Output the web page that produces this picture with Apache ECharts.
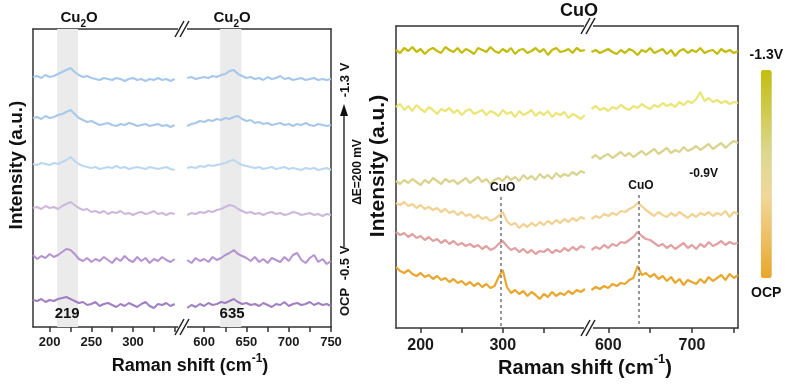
<!DOCTYPE html>
<html><head><meta charset="utf-8">
<script src="https://cdn.jsdelivr.net/npm/echarts@6/dist/echarts.min.js"></script>
<style>html,body{margin:0;padding:0;background:#fff}#c{width:793px;height:387px}</style>
</head><body><div id="c"></div>
<script>
// ---------- DATA ----------
// Left panel (Cu2O region), two x segments around the axis break
const leftXA = [180,185,190,195,200,205,210,215,220,225,230,235,240,245,250,255,260,265,270,275,280,285,290,295,300,305,310,315,320,325,330,335,340,345,350];
const leftXB = [580,585,590,595,600,605,610,615,620,625,630,635,640,645,650,655,660,665,670,675,680,685,690,695,700,705,710,715,720,725,730,735,740,745,750];
const leftOffsets = [249,204,160,115,69,23]; // stacking offsets, -1.3 V (top) ... OCP (bottom)
const leftA = [
  [1,2,0,3,1,2,4,6,8,10,6,3,1,2,0,-1,-2,0,-1,-2,0,-1,-3,-1,0,-2,-1,-3,-1,-2,0,-2,-1,-3,-1],
  [5,6,4,7,5,6,8,9,11,13,9,5,3,1,2,0,-2,-1,0,-2,-3,-1,-2,0,-1,-3,-2,-1,-3,-2,-1,-3,-2,-4,-2],
  [3,2,4,3,2,4,3,5,7,10,6,3,1,0,-1,0,-2,-1,0,-1,1,-1,0,-2,-1,0,-1,-2,0,-1,-2,-1,0,-2,-3],
  [4,5,3,6,4,5,3,6,8,10,7,4,2,3,0,1,-1,1,-2,0,-1,1,-2,-1,-3,-1,0,-2,-1,1,-2,-1,-3,-1,-2],
  [3,-1,2,0,4,1,3,6,9,8,4,-1,-3,0,-4,-1,-3,1,-2,-5,0,-3,2,-2,-4,1,-3,0,-5,-1,-3,1,-2,-4,-1],
  [4,3,5,2,4,3,5,6,7,5,3,1,2,-1,0,2,-2,0,1,-1,-3,0,-2,1,-1,-3,0,2,-2,-4,0,-1,1,-2,0]
];
const leftB = [
  [0,1,-1,0,1,0,2,1,3,4,7,8,4,2,0,1,-1,0,-2,1,-1,0,2,-1,0,-2,-1,0,-2,-1,0,-2,-1,-2,-1],
  [-3,-1,0,2,1,3,2,4,3,5,4,6,7,4,2,3,0,1,-1,0,-2,-1,0,-2,-1,-3,-1,-2,0,-2,-3,-1,-2,-3,-2],
  [-1,0,-1,1,0,2,1,2,3,4,6,7,4,2,1,0,-1,0,-2,-1,0,-2,-1,0,-2,-1,-2,-3,-1,-2,-1,-3,-2,-1,-3],
  [-3,-1,-2,0,-1,1,0,2,3,5,7,6,3,1,-1,0,-2,-1,-3,-1,0,-2,-1,-3,-2,0,-1,-3,-2,-1,-3,-2,-4,-2,-3],
  [-2,-5,0,-3,-1,-4,1,-2,0,3,5,8,4,2,0,-3,1,-4,-1,-5,0,-2,-4,1,-3,3,5,-2,-5,0,3,-4,-1,-6,-3],
  [-4,-1,-3,0,-2,1,-1,0,2,1,3,5,2,0,1,-1,0,-2,1,-1,-3,0,-1,2,-2,0,1,-1,0,2,-1,1,-1,0,-2]
];
const leftColors = ['#a6c8ec','#a8c8ea','#bcd7f0','#cdb8dd','#b592d0','#a07fc2'];
const leftTicksA = [200,225,250,275,300,325,350];
const leftLabelsA = [200,250,300];
const leftTicksB = [600,625,650,675,700,725,750];
const leftLabelsB = [600,650,700,750];
const leftBands = [[209,234],[619,644]];

// Right panel (CuO region)
const rightXC = [170,175,180,185,190,195,200,205,210,215,220,225,230,235,240,245,250,255,260,265,270,275,280,285,290,295,300,305,310,315,320,325,330,335,340,345,350,355,360,365,370,375,380,385,390,395,400];
const rightXD = [580,585,590,595,600,605,610,615,620,625,630,635,640,645,650,655,660,665,670,675,680,685,690,695,700,705,710,715,720,725,730,735,740,745,750,755];
const rightOffsets = [277,215,160,115,85,45]; // -1.3 V (top) ... OCP (bottom)
const rightC = [
  [1,-2,3,0,4,-1,2,-3,1,3,0,-2,4,1,-1,3,-2,2,0,-3,3,1,-1,4,0,-2,2,-1,3,-3,1,2,-2,0,3,-1,2,-4,1,3,-1,0,2,-2,3,0,1],
  [6,9,3,7,2,8,4,1,6,3,-1,4,2,5,0,3,-2,2,4,-1,1,3,-2,2,0,-3,3,-1,1,-4,2,-2,0,3,-3,1,-2,2,-4,0,-2,1,-5,-1,-3,-6,-2],
  [-13,-16,-12,-15,-11,-14,-17,-12,-15,-10,-13,-16,-11,-14,-12,-16,-13,-10,-15,-12,-9,-14,-11,-16,-12,-10,-13,-8,-12,-9,-13,-7,-11,-8,-12,-6,-10,-7,-11,-5,-9,-6,-8,-4,-7,-3,-5],
  [10,8,11,7,9,5,8,4,6,3,5,1,4,0,2,-2,1,-3,-1,-5,-2,-6,-4,-8,-6,-3,1,-8,-12,-10,-15,-11,-14,-10,-13,-9,-12,-8,-11,-7,-10,-6,-9,-5,-8,-4,-6],
  [11,8,10,6,9,5,7,3,6,2,4,0,3,-1,2,-2,0,-3,-1,-4,-2,-6,-3,-7,-5,-1,2,-3,-7,-5,-9,-6,-10,-7,-11,-8,-9,-6,-10,-7,-9,-5,-8,-4,-7,-3,-5],
  [16,12,10,13,9,7,10,6,8,4,7,3,5,1,4,0,2,-2,1,-3,0,-4,-1,-5,-3,6,13,-4,-10,-7,-11,-8,-13,-9,-12,-16,-11,-14,-9,-13,-10,-12,-8,-11,-7,-9,-6]
];
const rightD = [
  [-1,1,-2,0,2,-1,-3,1,-2,2,0,-4,1,-1,3,-2,0,2,-3,1,-5,0,2,-2,1,-1,3,-2,0,1,-3,2,-1,1,-2,0],
  [4,7,3,5,2,6,4,8,5,3,7,5,9,6,4,8,6,10,7,9,6,11,8,12,10,14,21,12,15,11,13,10,12,9,11,10],
  [10,13,9,12,14,10,13,16,12,15,11,14,17,13,16,19,14,17,20,15,18,16,21,17,19,22,18,21,24,19,22,25,20,24,27,25],
  [-6,-3,-5,-1,-3,0,-2,2,1,4,6,10,7,3,0,-3,1,-2,-4,0,-3,1,-2,-5,-1,-4,0,-2,1,-3,0,-2,2,-4,1,-1],
  [-7,-4,-6,-2,-5,-1,-3,1,0,3,6,11,7,4,3,0,-3,-1,-5,-2,-6,-3,0,-5,-2,-6,-1,-4,1,-3,-1,2,-2,1,-1,0],
  [-7,-4,-6,-3,-5,-1,-3,0,-1,3,5,17,8,10,6,9,4,7,2,6,0,4,-2,3,1,-1,4,0,6,2,5,8,3,9,5,8]
];
const rightColors = ['#c3bc0b','#ebe576','#d9d38e','#f2d293','#e0a1a0','#e9a72e'];
const rightTicksC = [200,250,300,350];
const rightLabelsC = [200,300];
const rightTicksD = [600,650,700,750];
const rightLabelsD = [600,700];
const cuoPeaks = [298,637];
const colorbarStops = ['#e8a62a','#eec066','#f0d89a','#dcd890','#cfcb50','#c4bd10'];

// ---------- CHART ----------
const FONT = 'Liberation Sans, Arial, sans-serif';
const AX = '#333';
const chart = echarts.init(document.getElementById('c'), null, {renderer:'canvas'});

const grids = [
  {left:33, top:29, width:150, height:298},
  {left:183, top:29, width:148, height:298},
  {left:396, top:26, width:193, height:302},
  {left:589, top:26, width:149, height:302}
];
function bottomAxis(g, min, max, ticks, labels, fs, margin){
  return {gridIndex:g, type:'value', min, max, position:'bottom',
    axisLine:{show:true, onZero:false, lineStyle:{color:AX, width:1.5}},
    axisTick:{show:true, customValues:ticks, length:5, inside:false, lineStyle:{color:AX, width:1.5}},
    axisLabel:{show:true, customValues:labels, fontSize:fs, fontWeight:'bold', color:'#1a1a1a', fontFamily:FONT, margin:margin},
    splitLine:{show:false}};
}
function topAxis(g, min, max){
  return {gridIndex:g, type:'value', min, max, position:'top',
    axisLine:{show:true, onZero:false, lineStyle:{color:AX, width:1.5}},
    axisTick:{show:false}, axisLabel:{show:false}, splitLine:{show:false}};
}
function yAx(g, max, pos){
  return {gridIndex:g, type:'value', min:0, max, position:pos,
    axisLine:{show:true, onZero:false, lineStyle:{color:AX, width:1.5}},
    axisTick:{show:false}, axisLabel:{show:false}, splitLine:{show:false}};
}
const xAxes = [
  bottomAxis(0,180,360,leftTicksA,leftLabelsA,13,9),
  bottomAxis(1,575,750,leftTicksB,leftLabelsB,13,9),
  bottomAxis(2,170,405,rightTicksC,rightLabelsC,16,10),
  bottomAxis(3,577,755,rightTicksD,rightLabelsD,16,10),
  topAxis(0,180,360), topAxis(1,575,750), topAxis(2,170,405), topAxis(3,577,755)
];
const yAxes = [yAx(0,298,'left'), yAx(1,298,'right'), yAx(2,302,'left'), yAx(3,302,'right')];

const series = [];
function trace(xs, vals, off, color, gi, w){
  series.push({type:'line', xAxisIndex:gi, yAxisIndex:gi, data:xs.map((x,i)=>[x, vals[i]+off]),
    symbol:'none', showSymbol:false, silent:true, z:3, lineStyle:{color, width:w}});
}
const lblStyle = (fs)=>({show:true, position:'inside', formatter:'{b}', fontSize:fs, fontWeight:'bold', color:'#111', fontFamily:FONT});
// helper series with bands / annotations
series.push({type:'line', xAxisIndex:0, yAxisIndex:0, data:[], z:1, silent:true,
  markArea:{silent:true, itemStyle:{color:'#ebebeb'}, data:[[{xAxis:leftBands[0][0]},{xAxis:leftBands[0][1]}]]},
  markPoint:{symbol:'circle', symbolSize:1, itemStyle:{color:'rgba(0,0,0,0)'}, label:lblStyle(15), data:[{name:'219', coord:[221,13]}]}});
series.push({type:'line', xAxisIndex:1, yAxisIndex:1, data:[], z:1, silent:true,
  markArea:{silent:true, itemStyle:{color:'#ebebeb'}, data:[[{xAxis:leftBands[1][0]},{xAxis:leftBands[1][1]}]]},
  markPoint:{symbol:'circle', symbolSize:1, itemStyle:{color:'rgba(0,0,0,0)'}, label:lblStyle(15), data:[{name:'635', coord:[633,13]}]}});
series.push({type:'line', xAxisIndex:2, yAxisIndex:2, data:[], z:1, silent:true,
  markLine:{silent:true, symbol:['none','none'], label:{show:false}, lineStyle:{color:'#777', width:1.5, type:[3,3]},
    data:[[{coord:[cuoPeaks[0],131]},{coord:[cuoPeaks[0],0]}]]},
  markPoint:{symbol:'circle', symbolSize:1, itemStyle:{color:'rgba(0,0,0,0)'}, label:lblStyle(12), data:[{name:'CuO', coord:[300,140]}]}});
series.push({type:'line', xAxisIndex:3, yAxisIndex:3, data:[], z:1, silent:true,
  markLine:{silent:true, symbol:['none','none'], label:{show:false}, lineStyle:{color:'#777', width:1.5, type:[3,3]},
    data:[[{coord:[cuoPeaks[1],133]},{coord:[cuoPeaks[1],0]}]]},
  markPoint:{symbol:'circle', symbolSize:1, itemStyle:{color:'rgba(0,0,0,0)'}, label:lblStyle(12),
    data:[{name:'CuO', coord:[639,142]},{name:'-0.9V', coord:[714,154]}]}});
// colorbar dummy
series.push({type:'scatter', xAxisIndex:2, yAxisIndex:2, data:[], silent:true});
const cbIndex = series.length-1;

for(let k=0;k<6;k++){
  trace(leftXA, leftA[k], leftOffsets[k], leftColors[k], 0, 2);
  trace(leftXB, leftB[k], leftOffsets[k], leftColors[k], 1, 2);
  trace(rightXC, rightC[k], rightOffsets[k], rightColors[k], 2, 2.2);
  trace(rightXD, rightD[k], rightOffsets[k], rightColors[k], 3, 2.2);
}

function txt(text, x, y, fs, rot, extra){
  return Object.assign({type:'text', x, y, rotation:rot||0, silent:true, z:10,
    style:{text, fontSize:fs, fontWeight:'bold', fontFamily:FONT, fill:'#111', align:'center', verticalAlign:'middle'}}, extra||{});
}
function rich(text, x, y, fs, subs, rot){
  const lh = Math.round(fs*1.5);
  return {type:'text', x, y, rotation:rot||0, silent:true, z:10,
    style:{text, fontFamily:FONT, fill:'#111', align:'center', verticalAlign:'middle',
      rich:{a:{fontSize:fs, lineHeight:lh, fontWeight:'bold', fontFamily:FONT, fill:'#111'},
            b:{fontSize:subs, fontWeight:'bold', fontFamily:FONT, fill:'#111', verticalAlign:'bottom'},
            t:{fontSize:subs, fontWeight:'bold', fontFamily:FONT, fill:'#111', verticalAlign:'top'}}}};
}
function brk(x, y){
  return [
    {type:'rect', shape:{x:x-5, y:y-2.5, width:9, height:5}, style:{fill:'#fff'}, z:20, silent:true},
    {type:'line', shape:{x1:x-8, y1:y+8, x2:x+1, y2:y-8}, style:{stroke:'#222', lineWidth:1.5}, z:21, silent:true},
    {type:'line', shape:{x1:x-3, y1:y+8, x2:x+6, y2:y-8}, style:{stroke:'#222', lineWidth:1.5}, z:21, silent:true}
  ];
}
const R90 = Math.PI/2;
const graphics = [
  rich('{a|Cu}{b|2}{a|O}', 79, 18, 15, 10),
  rich('{a|Cu}{b|2}{a|O}', 232, 18, 15, 10),
  txt('CuO', 579, 11, 18),
  txt('Intensity (a.u.)', 17, 165, 19, R90),
  txt('Intensity (a.u.)', 378, 166, 21, R90),
  rich('{a|Raman shift (cm}{t|-1}{a|)}', 190, 366, 18, 12),
  rich('{a|Raman shift (cm}{t|-1}{a|)}', 585, 368, 20, 13),
  txt('-1.3 V', 345, 80, 13, R90),
  txt('ΔE=200 mV', 358, 172, 12, R90),
  txt('-0.5 V', 345, 263, 13, R90),
  txt('OCP', 345, 302, 13, R90),
  {type:'line', shape:{x1:344, y1:247, x2:344, y2:113}, style:{stroke:'#111', lineWidth:1.3}, silent:true},
  {type:'polygon', shape:{points:[[344,104],[340,116],[348,116]]}, style:{fill:'#111'}, silent:true},
  ...brk(183,29), ...brk(183,327), ...brk(589,26), ...brk(589,328)
];

chart.setOption({
  animation:false,
  backgroundColor:'#fff',
  grid:grids,
  xAxis:xAxes,
  yAxis:yAxes,
  visualMap:{type:'continuous', min:0, max:1, seriesIndex:cbIndex, show:true, orient:'vertical',
    right:10, top:48, itemWidth:11, itemHeight:208, calculable:false, padding:0,
    text:['-1.3V','OCP'], textGap:8, textStyle:{fontSize:14, fontWeight:'bold', color:'#111', fontFamily:FONT},
    inRange:{color:colorbarStops}},
  series,
  graphic:graphics
});
</script></body></html>
